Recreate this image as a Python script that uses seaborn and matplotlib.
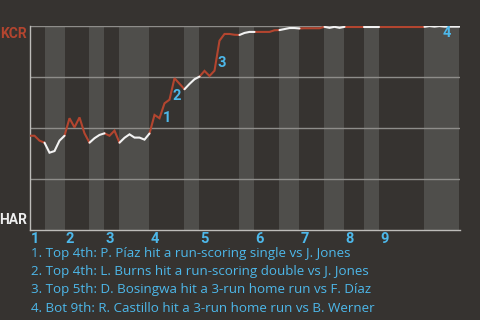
import numpy as np
import pandas as pd
import matplotlib
matplotlib.use("Agg")
import matplotlib.pyplot as plt
import seaborn as sns

# ---- data -------------------------------------------------------------
away_team = "KCR"
home_team = "HAR"

# KCR win probability after each event (plate appearance)
win_prob = [
    0.462, 0.462, 0.438, 0.428, 0.379, 0.387, 0.438, 0.462, 0.548, 0.503,
    0.552, 0.474, 0.428, 0.450, 0.466, 0.474, 0.462, 0.487, 0.428, 0.452,
    0.469, 0.453, 0.453, 0.443, 0.473, 0.564, 0.548, 0.621, 0.639, 0.744,
    0.717, 0.690, 0.716, 0.739, 0.752, 0.780, 0.755, 0.781, 0.928, 0.961,
    0.961, 0.957, 0.956, 0.966, 0.971, 0.971, 0.971, 0.971, 0.971, 0.979,
    0.980, 0.985, 0.990, 0.990, 0.988, 0.989, 0.989, 0.989, 0.989, 0.996,
    0.991, 0.996, 0.991, 0.996, 0.996, 0.996, 0.996, 0.996, 0.996, 0.996,
    0.996, 0.996, 0.996, 0.996, 0.996, 0.996, 0.996, 0.996, 0.996, 0.996,
    1.000, 0.997, 1.000, 0.997, 0.997, 0.997, 0.997,
]

# first event index of each half inning (top 1st, bot 1st, top 2nd, ...)
half_inning_starts = [0, 3, 7, 12, 15, 18, 24, 31, 34, 42, 45, 50, 54, 59, 63, 67, 70, 79]
last_event = 86

inning_labels = ["1", "2", "3", "4", "5", "6", "7", "8", "9"]

key_events = [27, 29, 38, 83]
key_labels = ["1", "2", "3", "4"]
descriptions = [
    "1. Top 4th: P. Píaz hit a run-scoring single vs J. Jones",
    "2. Top 4th: L. Burns hit a run-scoring double vs J. Jones",
    "3. Top 5th: D. Bosingwa hit a 3-run home run vs F. Díaz",
    "4. Bot 9th: R. Castillo hit a 3-run home run vs B. Werner",
]

# ---- styling ------------------------------------------------------------
BG = "#363330"
STRIPE = "#4f4e4b"
GRID = "#8e8d8a"
SPINE = "#bdbcb9"
RED = "#b3452f"
WHITE = "#f2f2f2"
BLUE = "#4db8ea"

sns.set_theme(style="dark")
plt.rcParams["font.family"] = ["Open Sans", "DejaVu Sans"]

# build long-form table: one segment group per half inning
bounds = half_inning_starts + [last_event]
rows = []
for h in range(len(half_inning_starts)):
    s, e = bounds[h], bounds[h + 1]
    team = away_team if h % 2 == 0 else home_team
    for ev in range(s, e + 1):
        rows.append({"event": ev, "prob": win_prob[ev], "half": h, "team": team})
df = pd.DataFrame(rows)

fig = plt.figure(figsize=(4.8, 3.2), dpi=100, facecolor=BG)
ax = fig.add_axes([29.5 / 480, 1 - 230 / 320, (460 - 29.5) / 480, (230 - 26) / 320])
ax.set_facecolor(BG)

# bottom-half stripes
for h in range(1, len(half_inning_starts), 2):
    ax.axvspan(bounds[h], bounds[h + 1], color=STRIPE, lw=0, zorder=0.1)

# horizontal grid
for yv in [0.25, 0.5, 0.75, 1.0]:
    ax.axhline(yv, color=GRID, lw=1.0, zorder=0.5)

sns.lineplot(data=df, x="event", y="prob", hue="team", units="half",
             estimator=None, palette={away_team: RED, home_team: WHITE},
             legend=False, linewidth=1.5, ax=ax, zorder=3,
             solid_joinstyle="miter")

ax.set_xlim(0, last_event + 0.1)
ax.set_ylim(0, 1)
ax.set_xticks([])
ax.set_yticks([])
ax.set_xlabel("")
ax.set_ylabel("")
for side in ["top", "right"]:
    ax.spines[side].set_visible(False)
for side in ["left", "bottom"]:
    ax.spines[side].set_visible(True)
    ax.spines[side].set_color(SPINE)
    ax.spines[side].set_linewidth(1.0)

# team labels
ax.annotate(away_team, xy=(0, 1), xycoords="axes fraction", xytext=(-3, -1),
            textcoords="offset pixels", ha="right", va="top",
            color=RED, fontsize=10, fontweight="bold", family=["Roboto", "DejaVu Sans"])
ax.annotate(home_team, xy=(0, 0), xycoords="axes fraction", xytext=(-3, 3),
            textcoords="offset pixels", ha="right", va="bottom",
            color="#eeeeee", fontsize=10, fontweight="bold", family=["Roboto", "DejaVu Sans"])

# inning numbers
for k, lab in enumerate(inning_labels):
    ax.annotate(lab, xy=(bounds[2 * k], 0), xycoords="data", xytext=(1, -2),
                textcoords="offset pixels", ha="left", va="top",
                color=BLUE, fontsize=10.5, fontweight="bold", family=["Roboto", "DejaVu Sans"])

# key event markers
for ev, lab in zip(key_events, key_labels):
    mx = ev - 0.5
    my = (win_prob[ev - 1] + win_prob[ev]) / 2
    ax.annotate(lab, xy=(mx, my), xycoords="data", xytext=(5, -7),
                textcoords="offset pixels", ha="center", va="center",
                color=BLUE, fontsize=10.5, fontweight="bold", family=["Roboto", "DejaVu Sans"],
                zorder=5)

# descriptions
for k, txt in enumerate(descriptions):
    fig.text(31 / 480, 1 - (254 + 18 * k) / 320, txt, ha="left", va="center",
             color=BLUE, fontsize=9.6)

fig.savefig("out.png", dpi=100, facecolor=BG)
